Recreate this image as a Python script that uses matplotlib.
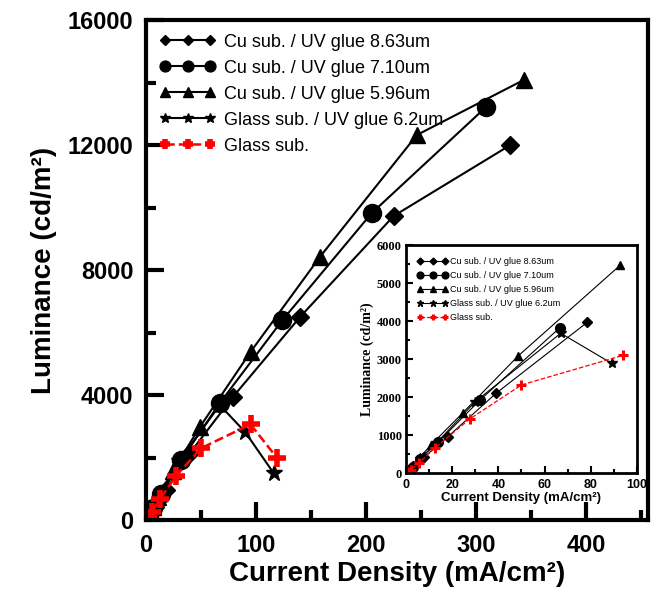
import matplotlib
matplotlib.use('Agg')
import matplotlib.pyplot as plt
from matplotlib.ticker import MultipleLocator

# main plot data (current density mA/cm2, luminance cd/m2)
cu863_x = [0, 1, 3, 8, 18, 39, 79, 140, 225, 331]
cu863_y = [0, 40, 180, 430, 950, 2100, 3940, 6500, 9730, 12000]
cu710_x = [0, 1, 3, 6, 14, 32, 67, 124, 205, 309]
cu710_y = [0, 40, 170, 380, 820, 1920, 3740, 6400, 9820, 13220]
cu596_x = [0, 1, 3, 6, 11, 24.5, 49, 95, 158, 246, 343]
cu596_y = [0, 50, 200, 420, 750, 1580, 2980, 5380, 8420, 12320, 14080]
gl62_x = [0, 1, 3, 6, 13, 30, 67, 90, 116]
gl62_y = [0, 40, 170, 380, 780, 1880, 3680, 2820, 1500]
glass_x = [0, 0.8, 2, 5.5, 12.5, 27.5, 50, 95, 119]
glass_y = [0, 30, 80, 260, 660, 1420, 2300, 3060, 1990]

# inset data (low current range)
in863_x = [0, 1, 3, 8, 18, 39, 78.5]
in863_y = [0, 40, 180, 430, 950, 2100, 3970]
in710_x = [0, 1, 3, 6, 14, 32, 66.5]
in710_y = [0, 40, 170, 380, 820, 1920, 3820]
in596_x = [0, 1, 3, 6, 11, 24.5, 48.5, 92.7]
in596_y = [0, 50, 200, 420, 750, 1580, 3080, 5470]
in62_x = [0, 1, 3, 6, 13, 30, 67, 89]
in62_y = [0, 40, 170, 380, 780, 1880, 3680, 2890]
inglass_x = [0, 0.8, 2, 5.5, 12.5, 27.5, 50, 94]
inglass_y = [0, 30, 80, 260, 660, 1420, 2320, 3100]

labels = ['Cu sub. / UV glue 8.63um', 'Cu sub. / UV glue 7.10um',
          'Cu sub. / UV glue 5.96um', 'Glass sub. / UV glue 6.2um', 'Glass sub.']

plt.rcParams['font.family'] = ['Liberation Sans', 'DejaVu Sans']

fig = plt.figure(figsize=(6.54, 5.95), dpi=100)
ax = fig.add_axes([0.2232, 0.126, 0.7676, 0.8403])

ax.plot(cu863_x, cu863_y, color='black', lw=1.5, marker='D', ms=9, label=labels[0])
ax.plot(cu710_x, cu710_y, color='black', lw=1.5, marker='o', ms=13, label=labels[1])
ax.plot(cu596_x, cu596_y, color='black', lw=1.5, marker='^', ms=12, label=labels[2])
ax.plot(gl62_x, gl62_y, color='black', lw=1.5, marker='*', ms=12, label=labels[3])
ax.plot(glass_x, glass_y, color='red', lw=1.8, ls='--', marker='+', ms=13, mew=4, label=labels[4])

ax.set_xlim(0, 456)
ax.set_ylim(0, 16000)
ax.xaxis.set_major_locator(MultipleLocator(100))
ax.xaxis.set_minor_locator(MultipleLocator(50))
ax.yaxis.set_major_locator(MultipleLocator(4000))
ax.yaxis.set_minor_locator(MultipleLocator(2000))
ax.tick_params(which='both', direction='in', width=3)
ax.tick_params(which='major', length=13)
ax.tick_params(which='minor', length=7)
ax.tick_params(axis='x', pad=10)
ax.tick_params(axis='y', pad=9)
for t in ax.get_xticklabels() + ax.get_yticklabels():
    t.set_fontsize(17)
    t.set_fontweight('bold')
for s in ax.spines.values():
    s.set_linewidth(3)
ax.set_xlabel('Current Density (mA/cm²)', fontsize=20, fontweight='bold', labelpad=3)
ax.set_ylabel('Luminance (cd/m²)', fontsize=20, fontweight='bold', labelpad=8)
ax.legend(loc='upper left', frameon=False, fontsize=13, numpoints=3, handlelength=3.1,
          handletextpad=0.45, labelspacing=0.5, borderaxespad=0.35, markerscale=0.6)

# inset
ins = fig.add_axes([0.6208, 0.205, 0.3532, 0.383])
ins.plot(in863_x, in863_y, color='black', lw=0.8, marker='D', ms=5, label=labels[0])
ins.plot(in710_x, in710_y, color='black', lw=0.8, marker='o', ms=7, label=labels[1])
ins.plot(in596_x, in596_y, color='black', lw=0.8, marker='^', ms=6, label=labels[2])
ins.plot(in62_x, in62_y, color='black', lw=0.8, marker='*', ms=7, label=labels[3])
ins.plot(inglass_x, inglass_y, color='red', lw=0.9, ls='--', marker='+', ms=7, mew=2.2, label=labels[4])
ins.set_xlim(0, 100)
ins.set_ylim(0, 6000)
ins.xaxis.set_major_locator(MultipleLocator(20))
ins.xaxis.set_minor_locator(MultipleLocator(10))
ins.yaxis.set_major_locator(MultipleLocator(1000))
ins.yaxis.set_minor_locator(MultipleLocator(500))
ins.tick_params(which='both', direction='in', width=1.5)
ins.tick_params(which='major', length=5)
ins.tick_params(which='minor', length=3)
ins.tick_params(axis='x', pad=4)
ins.tick_params(axis='y', pad=3)
for t in ins.get_xticklabels():
    t.set_fontsize(9)
    t.set_fontweight('bold')
for t in ins.get_yticklabels():
    t.set_fontsize(9)
    t.set_fontweight('bold')
    t.set_family('Liberation Serif')
for s in ins.spines.values():
    s.set_linewidth(2)
ins.set_xlabel('Current Density (mA/cm²)', fontsize=9.5, fontweight='bold', labelpad=1)
ins.set_ylabel('Luminance (cd/m²)', fontsize=10, fontweight='bold', labelpad=2,
               family='Liberation Serif')
ins.legend(loc='upper left', frameon=False, fontsize=6.5, numpoints=3, handlelength=3.3,
           handletextpad=0.3, labelspacing=0.55, borderaxespad=0.9, markerscale=0.7)

plt.savefig('out.png', dpi=100)
